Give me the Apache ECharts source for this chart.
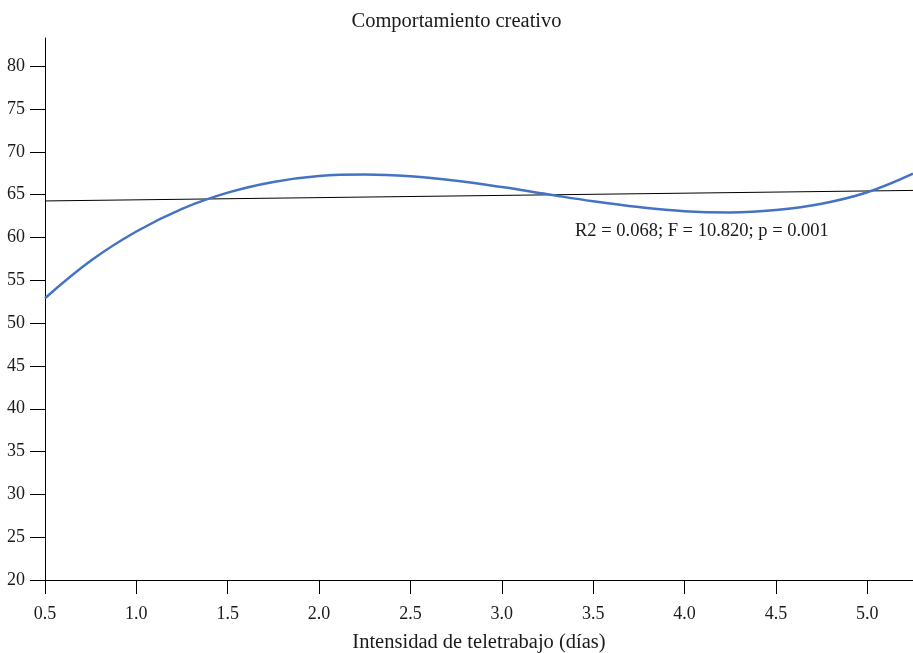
<!DOCTYPE html>
<html>
<head>
<meta charset="utf-8">
<script src="https://cdn.jsdelivr.net/npm/echarts@6/dist/echarts.min.js"></script>
<style>html,body{margin:0;padding:0;background:#fff}#c{width:913px;height:653px}</style>
</head>
<body>
<div id="c"></div>
<script>
// Data
const titleText = 'Comportamiento creativo';
const xAxisName = 'Intensidad de teletrabajo (días)';
const statsText = 'R2 = 0.068; F = 10.820; p = 0.001';
const xTicks = [0.5, 1.0, 1.5, 2.0, 2.5, 3.0, 3.5, 4.0, 4.5, 5.0];
const yTicks = [20, 25, 30, 35, 40, 45, 50, 55, 60, 65, 70, 75, 80];
const curveX = [0.5, 0.75, 1.0, 1.25, 1.5, 1.75, 2.0, 2.25, 2.5, 2.75, 3.0, 3.25, 3.5, 3.75, 4.0, 4.25, 4.5, 4.75, 5.0, 5.25];
const curveY = [52.9, 57.28, 60.70, 63.35, 65.24, 66.49, 67.18, 67.35, 67.14, 66.62, 65.89, 65.05, 64.23, 63.55, 63.07, 62.93, 63.21, 63.94, 65.28, 67.45];
const linearX = [0.5, 5.25];
const linearY = [64.27, 65.5];

const FONT = '"Liberation Serif", "Times New Roman", serif';
const TXT = '#1a1a1a';
const chart = echarts.init(document.getElementById('c'), null, {renderer: 'canvas'});
chart.setOption({
  animation: false,
  backgroundColor: '#ffffff',
  title: {
    text: titleText, left: 'center', top: 6,
    textStyle: {fontFamily: FONT, fontSize: 20.5, fontWeight: 'normal', color: TXT}
  },
  grid: {left: 45, right: 0, top: 38, bottom: 73, containLabel: false, outerBoundsMode: 'none'},
  xAxis: {
    type: 'value', min: 0.5, max: 5.25, interval: 0.5,
    name: xAxisName, nameLocation: 'middle', nameGap: 52,
    nameTextStyle: {fontFamily: FONT, fontSize: 20.5, color: TXT},
    axisLine: {show: true, onZero: false, lineStyle: {color: '#000', width: 1}},
    axisTick: {show: true, length: 14, customValues: xTicks, lineStyle: {color: '#000'}},
    axisLabel: {customValues: xTicks, margin: 25, fontFamily: FONT, fontSize: 18, color: TXT,
      formatter: v => Number(v).toFixed(1)},
    splitLine: {show: false}
  },
  yAxis: {
    type: 'value', min: 20, max: 83.3, interval: 5,
    axisLine: {show: true, onZero: false, lineStyle: {color: '#000', width: 1}},
    axisTick: {show: true, length: 15, customValues: yTicks, lineStyle: {color: '#000'}},
    axisLabel: {customValues: yTicks, margin: 20, fontFamily: FONT, fontSize: 18, color: TXT},
    splitLine: {show: false}
  },
  series: [
    {
      type: 'line', name: 'lineal', data: linearX.map((x, i) => [x, linearY[i]]),
      showSymbol: false, lineStyle: {color: '#000', width: 1}, z: 2
    },
    {
      type: 'line', name: 'cubica', data: curveX.map((x, i) => [x, curveY[i]]),
      smooth: 0.4, showSymbol: false, lineStyle: {color: '#4472C4', width: 2.5}, z: 3
    }
  ],
  graphic: [{
    type: 'text', left: 575, top: 222,
    style: {text: statsText, fontFamily: FONT, fontSize: 18.5, fill: TXT}
  }]
});
</script>
</body>
</html>
